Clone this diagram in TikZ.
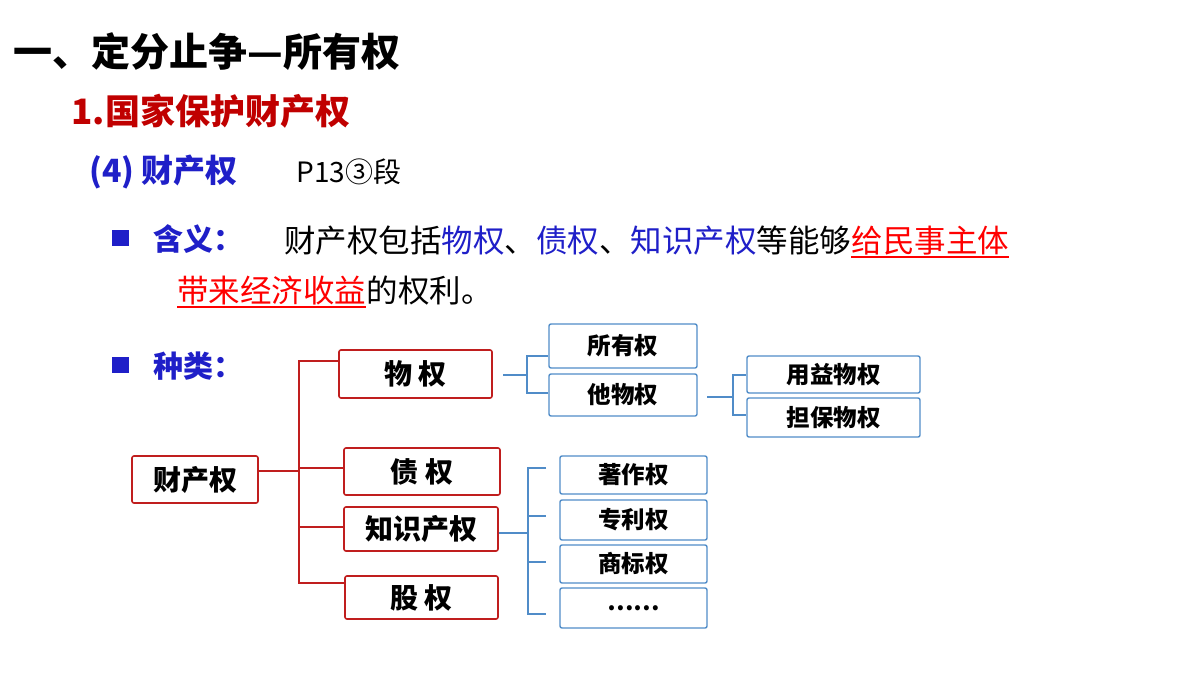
\documentclass[tikz,border=0pt]{standalone}
\usepackage{fontspec}
\setmainfont{Noto Sans CJK SC}
\definecolor{rd}{RGB}{192,0,0}
\definecolor{bl}{RGB}{31,31,200}
\definecolor{lb}{RGB}{80,140,200}
\definecolor{tr}{RGB}{192,30,30}
\begin{document}
\begin{tikzpicture}[x=1pt,y=-1pt,
 rbox/.style={draw=tr,line width=1.6pt,rounded corners=2pt,font=\fontsize{28}{30}\selectfont\bfseries},
 bbox/.style={draw=lb,line width=1.4pt,rounded corners=2pt,font=\fontsize{23.5}{25}\selectfont\bfseries},
 rl/.style={tr,line width=1.4pt},
 bl2/.style={lb,line width=1.2pt},
 body/.style={font=\fontsize{31.5}{33}\selectfont,inner sep=0pt}]
\useasboundingbox (0,0) rectangle (1200,675);
\node[anchor=west,font=\fontsize{39}{41}\selectfont\bfseries] (t1) at (10,52) {一、定分止争—所有权};
\node[anchor=west,font=\fontsize{35}{37}\selectfont\bfseries,text=rd] (t2) at (68,111) {1.国家保护财产权};
\node[anchor=west,font=\fontsize{32}{34}\selectfont\bfseries,text=bl] (t3) at (86,172) {(4) 财产权};
\node[anchor=west,font=\fontsize{28}{30}\selectfont] (t4) at (293,172) {P13③段};
\fill[bl] (112,230) rectangle (129,246);
\fill[bl] (112,357) rectangle (129,373);
\node[anchor=west,font=\fontsize{30}{32}\selectfont\bfseries,text=bl] (h1) at (150,239) {含义：};
\node[body,anchor=base west] (l1) at (284,252) {财产权包括\textcolor{bl}{物权}、\textcolor{bl}{债权}、\textcolor{bl}{知识产权}等能够};
\node[body,anchor=base west,text=red] (u1) at (l1.base east) {给民事主体};
\draw[red,line width=1.3pt] ([yshift=-5pt]u1.base west) -- ([yshift=-5pt]u1.base east);
\node[body,anchor=base west,text=red] (u2) at (177,302) {带来经济收益};
\draw[red,line width=1.3pt] ([yshift=-5pt]u2.base west) -- ([yshift=-5pt]u2.base east);
\node[body,anchor=base west] (l2) at (u2.base east) {的权利。};
\node[anchor=west,font=\fontsize{30}{32}\selectfont\bfseries,text=bl] (h2) at (150,366) {种类：};
% boxes
\node[rbox,minimum width=126pt,minimum height=47pt] (cc) at (195,479.5) {财产权};
\node[rbox,minimum width=153pt,minimum height=48pt] (wq) at (415.5,374) {物 权};
\node[rbox,minimum width=156pt,minimum height=47pt] (zq) at (422,471.5) {债 权};
\node[rbox,minimum width=154pt,minimum height=44pt] (zs) at (421,529) {知识产权};
\node[rbox,minimum width=153pt,minimum height=43pt] (gq) at (421.5,597.5) {股 权};
\node[bbox,minimum width=148pt,minimum height=44pt] (sy) at (623,346) {所有权};
\node[bbox,minimum width=148pt,minimum height=42pt] (tw) at (623,395) {他物权};
\node[bbox,minimum width=173pt,minimum height=37pt] (yy) at (833.5,374.5) {用益物权};
\node[bbox,minimum width=173pt,minimum height=39pt] (db) at (833.5,417.5) {担保物权};
\node[bbox,minimum width=147pt,minimum height=38pt] (zz) at (633.5,475) {著作权};
\node[bbox,minimum width=147pt,minimum height=40pt] (zl) at (633.5,520) {专利权};
\node[bbox,minimum width=147pt,minimum height=38pt] (sb) at (633.5,564) {商标权};
\node[bbox,minimum width=147pt,minimum height=40pt] (el) at (633.5,608) {……};
% red connectors
\coordinate (rj) at (299,471);
\draw[rl] (cc.east|-rj) -- (rj);
\draw[rl] (wq.west|-0,361) -- (299,361) -- (299,583) -- (gq.west|-0,583);
\draw[rl] (299,468) -- (zq.west|-0,468);
\draw[rl] (299,527) -- (zs.west|-0,527);
% blue connectors
\draw[bl2] (503,375) -- (527,375);
\draw[bl2] (sy.west|-0,356) -- (527,356) -- (527,393) -- (tw.west|-0,393);
\draw[bl2] (707,397) -- (733,397);
\draw[bl2] (yy.west|-0,375) -- (733,375) -- (733,415) -- (db.west|-0,415);
\draw[bl2] (zs.east|-0,533) -- (528,533);
\draw[bl2] (546,468) -- (528,468) -- (528,614) -- (546,614);
\draw[bl2] (528,516) -- (546,516);
\draw[bl2] (528,562) -- (546,562);
\end{tikzpicture}
\end{document}
